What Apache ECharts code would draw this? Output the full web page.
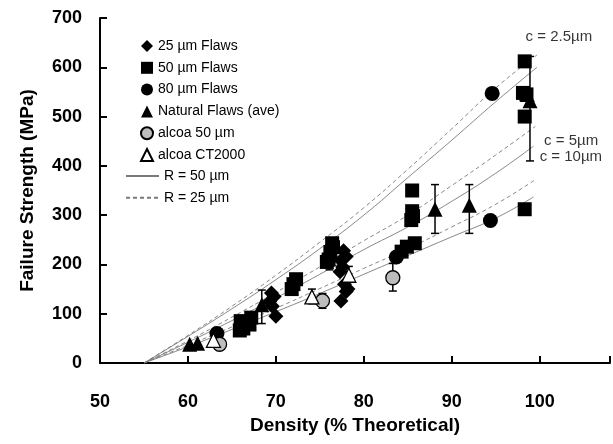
<!DOCTYPE html>
<html>
<head>
<meta charset="utf-8">
<script src="https://cdn.jsdelivr.net/npm/echarts@6/dist/echarts.min.js"></script>
<style>
  html, body { margin: 0; padding: 0; background: #fff; }
  #main { width: 613px; height: 444px; }
</style>
</head>
<body>
<div id="main"></div>
<script>
// measured points [density %, strength MPa]
var flaws25 = [[69.5, 142], [69.8, 135], [69.3, 125], [69.6, 115], [70.0, 95],
  [77.7, 228], [78.0, 216], [77.4, 208], [77.6, 195], [77.3, 185], [77.8, 160], [78.2, 150], [77.4, 126], [78.0, 145]];
var flaws50 = [[66.0, 85], [66.3, 70], [67.2, 92], [67.0, 78], [65.9, 66],
  [71.8, 150], [72.0, 160], [72.3, 170],
  [76.4, 243], [76.5, 235], [76.2, 225], [76.0, 210], [75.8, 205],
  [85.5, 350], [85.5, 308], [85.6, 298], [85.4, 290], [85.8, 243], [84.9, 236], [84.3, 226],
  [98.3, 612], [98.1, 548], [98.5, 545], [98.3, 500], [98.3, 312]];
var flaws80 = [[63.3, 60], [83.7, 215], [94.4, 289], [94.6, 547]];
var natural = [[60.2, 38], [61.1, 40], [68.4, 118], [88.1, 312], [92.0, 320], [98.6, 545], [98.9, 532]];
var alcoa50 = [[63.6, 38], [75.3, 126], [83.3, 173]];
var alcoaCT = [[62.9, 46], [74.1, 134], [78.3, 178]];
// error bars [density, low, high]
var errBars = [[68.4, 80, 148], [88.1, 263, 362], [92.0, 263, 362], [98.9, 410, 622],
  [75.3, 111, 141], [83.3, 146, 202], [74.1, 120, 150], [78.3, 165, 196], [76.1, 189, 235]];
// model curves
var r50c25 = [[55, 0], [60, 54], [65, 110], [70, 169], [75, 232], [80, 300], [85, 376], [90, 452], [95, 530], [99.7, 600]];
var r25c25 = [[55, 0], [60, 56], [65, 115], [70, 178], [75, 245], [80, 315], [85, 393], [90, 475], [95, 558], [99.7, 625]];
var r50c5 = [[55, 0], [60, 42], [65, 86], [70, 132], [75, 180], [80, 230], [85, 276], [90, 328], [95, 385], [99.3, 440]];
var r25c5 = [[55, 0], [60, 45], [65, 93], [70, 143], [75, 195], [80, 248], [85, 300], [90, 360], [95, 422], [99.5, 480]];
var r50c10 = [[55, 0], [60, 33], [65, 68], [70, 104], [75, 141], [80, 180], [85, 218], [90, 256], [95, 294], [99.3, 337]];
var r25c10 = [[55, 0], [60, 36], [65, 73], [70, 111], [75, 151], [80, 192], [85, 232], [90, 276], [95, 322], [99.5, 372]];
// curve labels [density, strength, text]
var notes = [[98.4, 661, 'c = 2.5µm'], [100.5, 450, 'c = 5µm'], [100.0, 418, 'c = 10µm']];

var markNames = ['25 µm Flaws', '50 µm Flaws', '80 µm Flaws', 'Natural Flaws (ave)', 'alcoa 50 µm', 'alcoa CT2000'];
var lineNames = ['R = 50 µm', 'R = 25 µm'];

var chart = echarts.init(document.getElementById('main'));
var font = 'Liberation Sans, Arial, sans-serif';

function curve (name, data, dashed) {
    return {
        name: name,
        type: 'line',
        data: data,
        symbol: 'none',
        smooth: true,
        silent: true,
        z: 1,
        lineStyle: { color: '#7a7a7a', width: 0.9, type: dashed ? [4, 3] : 'solid' },
        itemStyle: { color: '#7a7a7a' }
    };
}

function dots (name, data, symbol, size, fill, border) {
    return {
        name: name,
        type: 'scatter',
        data: data,
        symbol: symbol,
        symbolSize: size,
        z: 5,
        itemStyle: { color: fill, borderColor: border || fill, borderWidth: border ? 1.3 : 0, opacity: 1 }
    };
}

var option = {
    animation: false,
    backgroundColor: '#fff',
    textStyle: { fontFamily: font },
    grid: { left: 100, right: 1, top: 18, bottom: 81 },
    legend: [{
        orient: 'vertical',
        left: 135,
        top: 34,
        itemGap: 7.8,
        itemWidth: 12,
        itemHeight: 12,
        selectedMode: false,
        textStyle: { fontSize: 14, color: '#000', fontFamily: font },
        data: markNames
    }, {
        orient: 'vertical',
        left: 120,
        top: 164,
        itemGap: 7.7,
        itemWidth: 33,
        itemHeight: 14,
        selectedMode: false,
        itemStyle: { opacity: 0 },
        textStyle: { fontSize: 14, color: '#000', fontFamily: font },
        data: lineNames
    }],
    xAxis: {
        type: 'value',
        min: 50,
        max: 108,
        interval: 10,
        name: 'Density (% Theoretical)',
        nameLocation: 'middle',
        nameGap: 52,
        nameTextStyle: { fontSize: 19, fontWeight: 'bold', color: '#000' },
        splitLine: { show: false },
        axisLine: { lineStyle: { color: '#000', width: 2 } },
        axisTick: { inside: true, length: 7, lineStyle: { color: '#000', width: 2 } },
        axisLabel: {
            margin: 30, fontSize: 18, fontWeight: 'bold', color: '#000',
            formatter: function (v) { return v % 10 === 0 ? v : ''; }
        }
    },
    yAxis: {
        type: 'value',
        min: 0,
        max: 700,
        interval: 100,
        name: 'Failure Strength (MPa)',
        nameLocation: 'middle',
        nameGap: 63,
        nameTextStyle: { fontSize: 19, fontWeight: 'bold', color: '#000' },
        splitLine: { show: false },
        axisLine: { lineStyle: { color: '#000', width: 2 } },
        axisTick: { inside: true, length: 7, lineStyle: { color: '#000', width: 2 } },
        axisLabel: { margin: 18, fontSize: 18, fontWeight: 'bold', color: '#000' }
    },
    series: [
        curve('R = 50 µm', r50c25, false),
        curve('R = 25 µm', r25c25, true),
        curve('R = 50 µm', r50c5, false),
        curve('R = 25 µm', r25c5, true),
        curve('R = 50 µm', r50c10, false),
        curve('R = 25 µm', r25c10, true),
        {
            type: 'custom',
            z: 4,
            silent: true,
            data: errBars,
            renderItem: function (params, api) {
                var x = api.value(0);
                var lo = api.coord([x, api.value(1)]);
                var hi = api.coord([x, api.value(2)]);
                var style = { stroke: '#000', lineWidth: 1.5 };
                return {
                    type: 'group',
                    children: [
                        { type: 'line', shape: { x1: lo[0], y1: lo[1], x2: hi[0], y2: hi[1] }, style: style },
                        { type: 'line', shape: { x1: lo[0] - 4, y1: lo[1], x2: lo[0] + 4, y2: lo[1] }, style: style },
                        { type: 'line', shape: { x1: hi[0] - 4, y1: hi[1], x2: hi[0] + 4, y2: hi[1] }, style: style }
                    ]
                };
            }
        },
        dots('25 µm Flaws', flaws25, 'diamond', 15, '#000'),
        dots('50 µm Flaws', flaws50, 'rect', 14, '#000'),
        dots('80 µm Flaws', flaws80, 'circle', 15, '#000'),
        dots('Natural Flaws (ave)', natural, 'triangle', 15, '#000'),
        dots('alcoa 50 µm', alcoa50, 'circle', 14, '#bdbdbd', '#000'),
        dots('alcoa CT2000', alcoaCT, 'triangle', 14, '#fff', '#000'),
        {
            type: 'scatter',
            silent: true,
            symbolSize: 0,
            data: notes,
            label: {
                show: true,
                position: 'right',
                distance: 0,
                fontSize: 15,
                color: '#000',
                formatter: function (p) { return p.data[2]; }
            }
        }
    ]
};

chart.setOption(option);
</script>
</body>
</html>
